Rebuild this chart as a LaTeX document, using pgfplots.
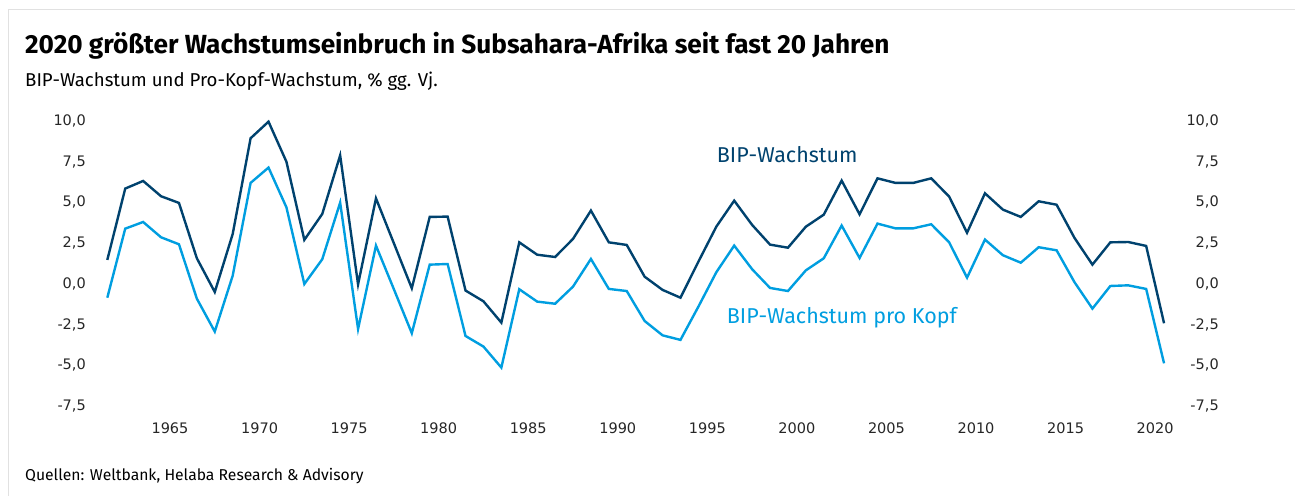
\documentclass[border=0pt]{standalone}
\usepackage{pgfplots}
\pgfplotsset{compat=1.18}
\usepackage{fontspec}
\setmainfont{Fira Sans}
\newfontfamily\tickfont{DejaVu Sans}
\definecolor{darkblue}{RGB}{0,66,110}
\definecolor{lightblue}{RGB}{0,158,224}
\definecolor{framegray}{RGB}{225,225,225}

\pgfplotstableread{
year gdp pc
1961.5 1.47 -0.85
1962.5 5.85 3.39
1963.5 6.32 3.80
1964.5 5.38 2.86
1965.5 4.97 2.43
1966.5 1.57 -0.91
1967.5 -0.50 -2.93
1968.5 3.06 0.50
1969.5 8.94 6.20
1970.5 9.96 7.14
1971.5 7.50 4.70
1972.5 2.70 -0.01
1973.5 4.29 1.51
1974.5 7.89 4.99
1975.5 -0.03 -2.77
1976.5 5.25 2.35
1977.5 2.49 -0.33
1978.5 -0.27 -3.03
1979.5 4.11 1.18
1980.5 4.13 1.22
1981.5 -0.41 -3.20
1982.5 -1.07 -3.85
1983.5 -2.38 -5.14
1984.5 2.55 -0.33
1985.5 1.79 -1.09
1986.5 1.65 -1.22
1987.5 2.76 -0.17
1988.5 4.50 1.53
1989.5 2.55 -0.31
1990.5 2.39 -0.44
1991.5 0.44 -2.28
1992.5 -0.37 -3.16
1993.5 -0.85 -3.44
1994.5 1.36 -1.40
1995.5 3.51 0.71
1996.5 5.11 2.35
1997.5 3.62 0.90
1998.5 2.41 -0.25
1999.5 2.22 -0.44
2000.5 3.51 0.83
2001.5 4.25 1.57
2002.5 6.34 3.58
2003.5 4.27 1.59
2004.5 6.48 3.70
2005.5 6.20 3.41
2006.5 6.20 3.41
2007.5 6.48 3.66
2008.5 5.36 2.55
2009.5 3.14 0.38
2010.5 5.56 2.72
2011.5 4.56 1.76
2012.5 4.11 1.30
2013.5 5.07 2.25
2014.5 4.86 2.06
2015.5 2.82 0.10
2016.5 1.18 -1.52
2017.5 2.55 -0.13
2018.5 2.57 -0.09
2019.5 2.33 -0.31
2020.5 -2.42 -4.88
}\datatable

\begin{document}
\begin{tikzpicture}[x=1pt,y=1pt]
\path[use as bounding box] (0,0) rectangle (1295,-496);
\draw[framegray, line width=1.5pt] (8.5,-496) -- (8.5,-9.5) -- (1295,-9.5);

\node[anchor=base west, inner sep=0pt, font=\fontsize{26.2}{30}\selectfont\bfseries] at (25,-53) {2020 größter Wachstumseinbruch in Subsahara-Afrika seit fast 20 Jahren};
\node[anchor=base west, inner sep=0pt, font=\fontsize{18.6}{22}\selectfont] at (25,-86) {BIP-Wachstum und Pro-Kopf-Wachstum, \% gg. Vj.};
\node[anchor=base west, inner sep=0pt, font=\fontsize{15.7}{19}\selectfont] at (25,-480) {Quellen: Weltbank, Helaba Research \& Advisory};

\begin{axis}[
  at={(89.4pt,-406pt)}, anchor=south west,
  scale only axis, width=1092.6pt, height=285pt,
  xmin=1960.5, xmax=2021.5, ymin=-7.5, ymax=10,
  axis line style={draw=none}, major tick length=0pt,
  xtick={1965,1970,1975,1980,1985,1990,1995,2000,2005,2010,2015,2020},
  xticklabels={1965,1970,1975,1980,1985,1990,1995,2000,2005,2010,2015,2020},
  ytick={-7.5,-5,-2.5,0,2.5,5,7.5,10},
  yticklabels={{-7,5},{-5,0},{-2,5},{0,0},{2,5},{5,0},{7,5},{10,0}},
  ticklabel style={font=\tickfont\fontsize{14.5}{17}\selectfont, text=black!85},
  xticklabel style={anchor=north, inner sep=0pt, yshift=-16.7pt},
  yticklabel style={anchor=east, inner sep=0pt, xshift=-3.4pt},
  clip=false,
]
\addplot[darkblue, line width=2.4pt, line join=miter] table[x=year,y=gdp] {\datatable};
\addplot[lightblue, line width=2.4pt, line join=miter] table[x=year,y=pc] {\datatable};
\end{axis}
\begin{axis}[
  at={(89.4pt,-406pt)}, anchor=south west,
  scale only axis, width=1092.6pt, height=285pt,
  xmin=1960.5, xmax=2021.5, ymin=-7.5, ymax=10,
  axis line style={draw=none}, major tick length=0pt,
  xtick=\empty,
  yticklabel pos=right,
  ytick={-7.5,-5,-2.5,0,2.5,5,7.5,10},
  yticklabels={{-7,5},{-5,0},{-2,5},{0,0},{2,5},{5,0},{7,5},{10,0}},
  ticklabel style={font=\tickfont\fontsize{14.5}{17}\selectfont, text=black!85},
  yticklabel style={anchor=east, inner sep=0pt, xshift=37pt},
]
\end{axis}

\node[anchor=base west, inner sep=0pt, text=darkblue, font=\fontsize{21.5}{25}\selectfont] at (716.7,-162.7) {BIP-Wachstum};
\node[anchor=base west, inner sep=0pt, text=lightblue, font=\fontsize{21.5}{25}\selectfont] at (726.7,-323.3) {BIP-Wachstum pro Kopf};
\end{tikzpicture}
\end{document}
